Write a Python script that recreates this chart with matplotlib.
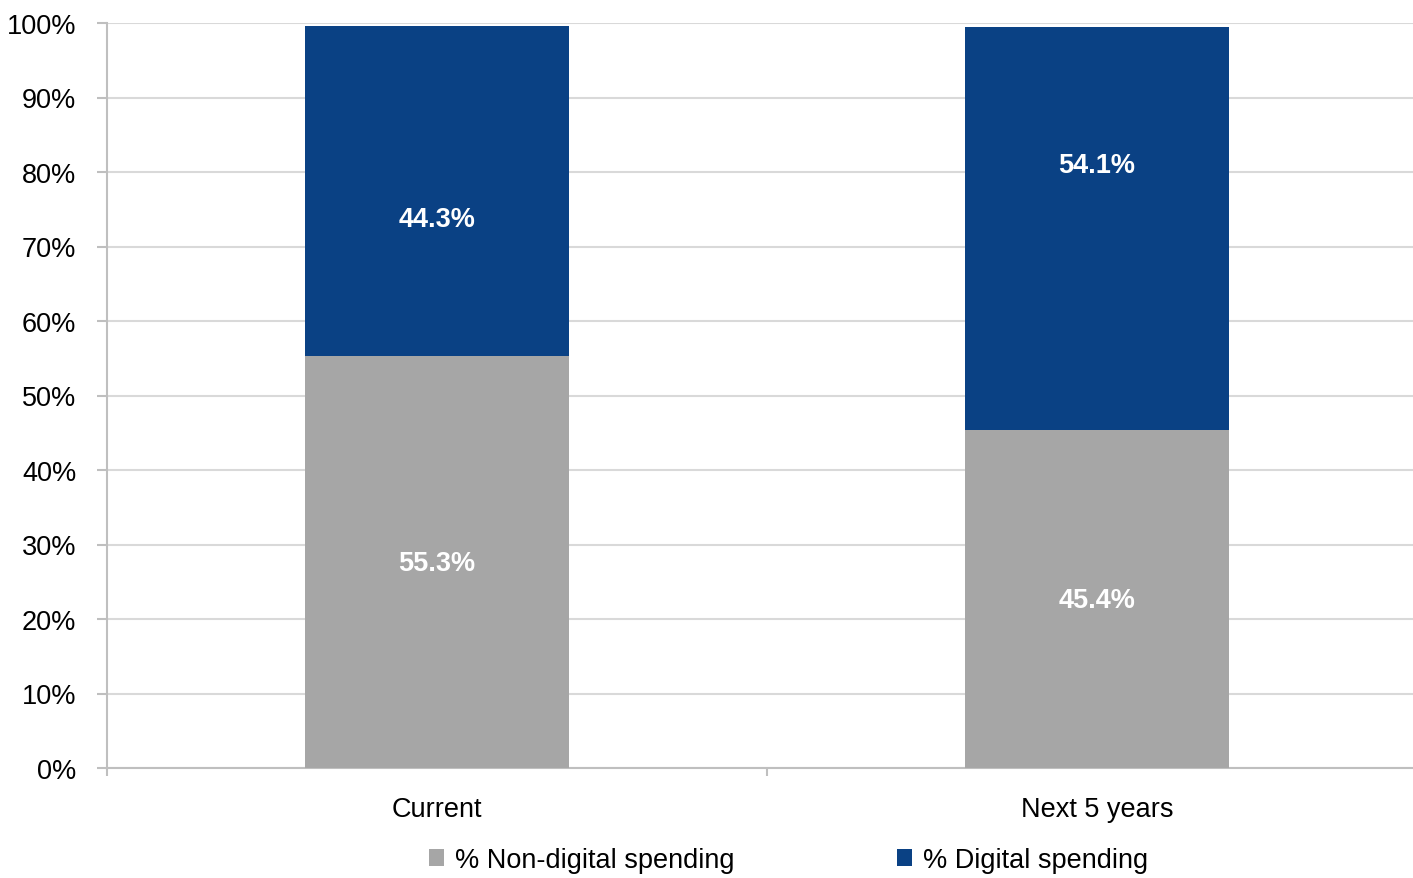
import numpy as np
import matplotlib.pyplot as plt
from matplotlib.ticker import PercentFormatter

categories = ["Current", "Next 5 years"]
non_digital = [55.3, 45.4]
digital = [44.3, 54.1]
series_names = ["% Non-digital spending", "% Digital spending"]
# where the value labels sit (in % of the axis), as in the original
non_digital_label_y = [27.5, 22.5]
digital_label_y = [73.7, 80.9]

gray = "#A6A6A6"
blue = "#0A4184"
grid_c = "#D9D9D9"
spine_c = "#BFBFBF"

plt.rcParams['font.family'] = ['Liberation Sans Narrow', 'Liberation Sans', 'DejaVu Sans']
fs = 19.5

fig = plt.figure(figsize=(14.13, 8.79), dpi=100)
ax = fig.add_axes([107 / 1413, 1 - 769 / 879, 1320 / 1413, (769 - 24) / 879])

x = np.arange(len(categories))
b1 = ax.bar(x, non_digital, width=0.4, color=gray, label=series_names[0], zorder=3)
b2 = ax.bar(x, digital, width=0.4, bottom=non_digital, color=blue, label=series_names[1], zorder=3)

for bars, vals, ys in [(b1, non_digital, non_digital_label_y), (b2, digital, digital_label_y)]:
    for rect, v, y in zip(bars, vals, ys):
        ax.text(rect.get_x() + rect.get_width() / 2, y, f"{v:.1f}%",
                ha="center", va="center", color="white", fontsize=fs, fontweight="bold", zorder=4)

ax.set_xlim(-0.5, 1.5)
ax.set_ylim(0, 100)
ax.set_yticks(np.arange(0, 101, 10))
ax.yaxis.set_major_formatter(PercentFormatter(decimals=0))
ax.set_xticks(x)
ax.set_xticklabels(categories)
ax.set_xticks([-0.5, 0.5, 1.5], minor=True)

ax.grid(axis="y", color=grid_c, linewidth=1.5, zorder=0)
for s in ["top", "right"]:
    ax.spines[s].set_visible(False)
for s in ["left", "bottom"]:
    ax.spines[s].set_color(spine_c)
    ax.spines[s].set_linewidth(1.5)

ax.tick_params(axis="y", length=7, width=1.5, color=spine_c, labelsize=fs, pad=15)
ax.tick_params(axis="x", which="major", length=0, labelsize=fs, pad=20)
ax.tick_params(axis="x", which="minor", length=6, width=1.5, color=spine_c)

fig.legend(handles=[b1, b2], loc="center", bbox_to_anchor=(0.558, 1 - 861 / 879), ncol=2,
           frameon=False, fontsize=fs, handlelength=0.55, handleheight=0.55,
           handletextpad=0.4, columnspacing=6.0, borderaxespad=0, borderpad=0)

fig.savefig("out.png", dpi=100)
